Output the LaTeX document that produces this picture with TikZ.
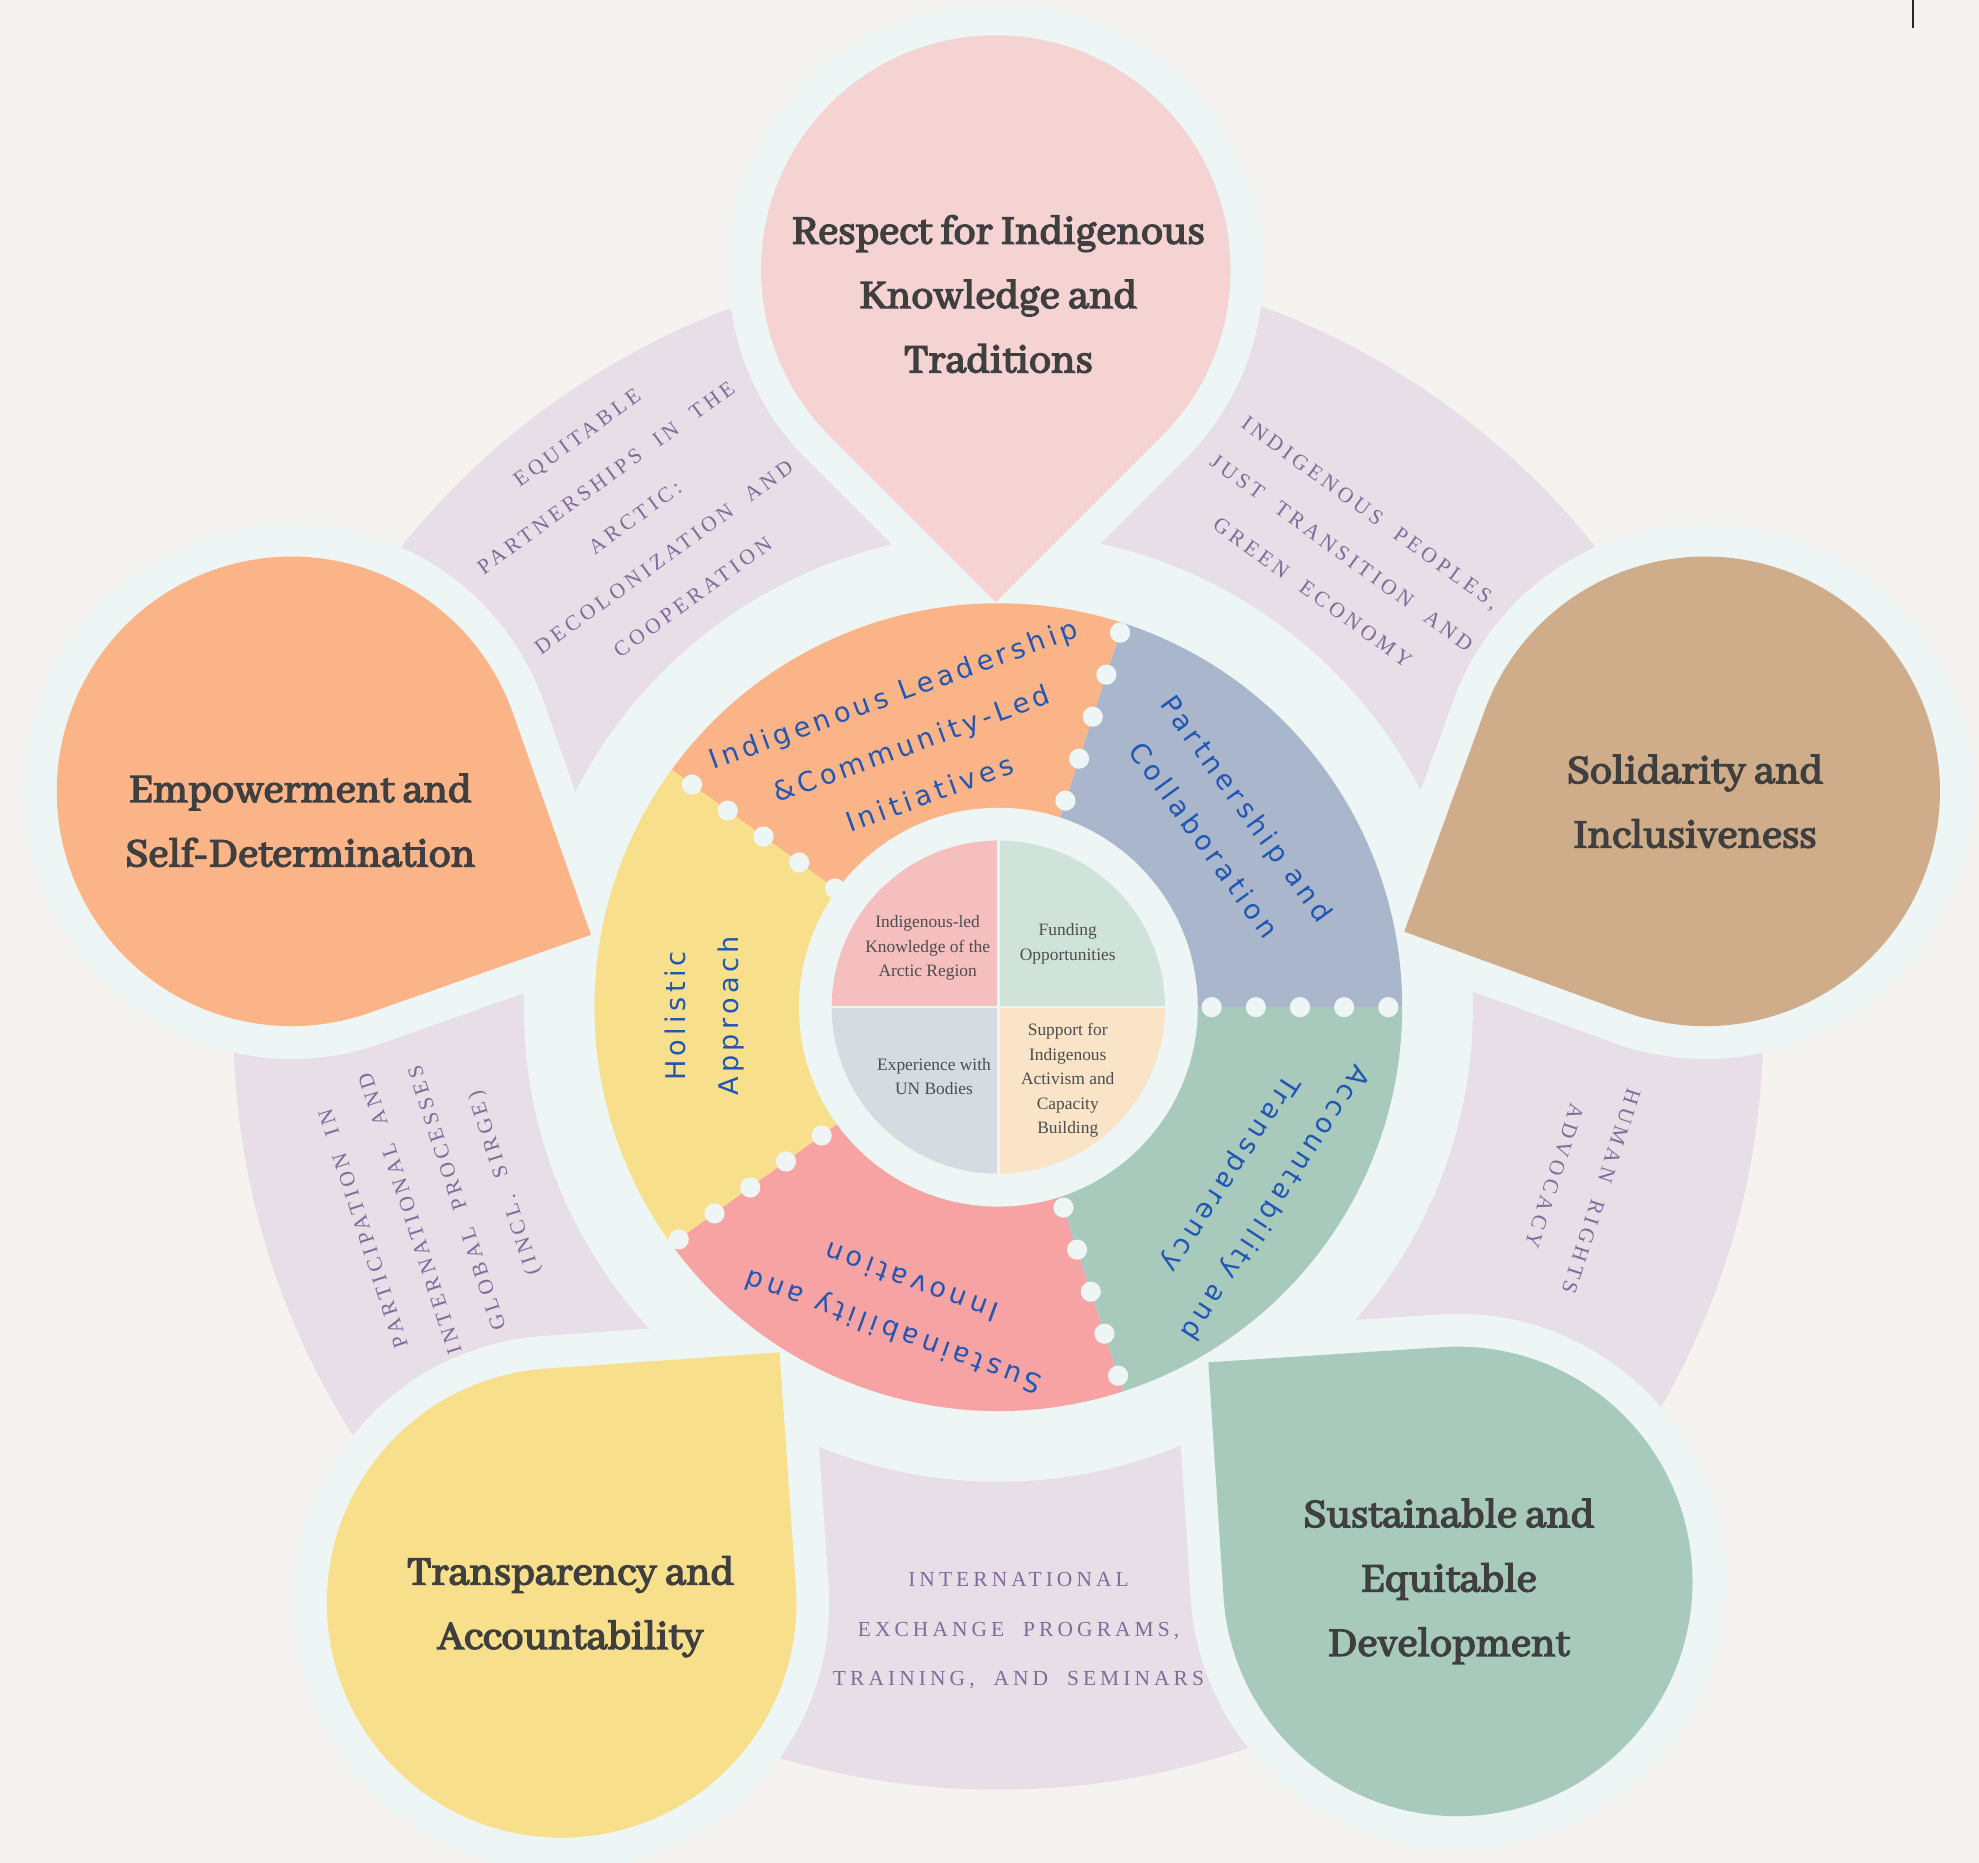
\documentclass[tikz,border=0pt]{standalone}
\usepackage{fontspec}
\setmainfont{Liberation Serif}
\newfontfamily\petalfont[FakeBold=3.5]{Abhaya Libre}
\newfontfamily\wheelfont[LetterSpace=16]{DejaVu Sans}
\newfontfamily\lavfont[LetterSpace=19,WordSpace=2]{Liberation Serif}
\newfontfamily\quadfont{Liberation Serif}
\usetikzlibrary{calc}
\definecolor{bg}{HTML}{F4F3EF}
\definecolor{cyanc}{HTML}{EDF5F5}
\definecolor{lav}{HTML}{E8DEE8}
\definecolor{lavink}{HTML}{806C99}
\definecolor{ink}{HTML}{3F3F3F}
\definecolor{quadink}{HTML}{4D4D4D}
\definecolor{wheelink}{HTML}{2156B3}
\definecolor{ppink}{HTML}{F4D3D2}
\definecolor{porange}{HTML}{FBB487}
\definecolor{ptan}{HTML}{CFAC8A}
\definecolor{pyellow}{HTML}{F8DF8B}
\definecolor{pgreen}{HTML}{A8CABD}
\definecolor{wblue}{HTML}{A9B6CB}
\definecolor{wpink}{HTML}{F7A3A4}
\definecolor{qtl}{HTML}{F4BFBE}
\definecolor{qtr}{HTML}{D0E3DB}
\definecolor{qbl}{HTML}{D4DCE2}
\definecolor{qbr}{HTML}{F9E4C8}
\newcommand\teardrop[4]{%
  \fill[#4] ($(#1)+({#2+45}:#3)$) arc[start angle={#2+45}, end angle={#2+315}, radius=#3] -- ($(#1)+(#2:{#3*1.41421})$) -- cycle;}
\newcommand\wsector[4]{%
  \fill[#4] (#1) -- ($(#1)+(#2:320)$) arc[start angle=#2, end angle=#3, radius=320] -- cycle;}
\newcommand\qsector[4]{%
  \fill[#4] (#1) -- ($(#1)+(#2:132)$) arc[start angle=#2, end angle=#3, radius=132] -- cycle;}
\tikzset{
  petaltext/.style={font=\petalfont\fontsize{35}{51}\selectfont, text=ink, align=center, inner sep=0},
  lavtext/.style={font=\lavfont\fontsize{17}{39}\selectfont, text=lavink, align=center, inner sep=0},
  wheeltext/.style={font=\wheelfont\fontsize{21.5}{42}\selectfont, text=wheelink, align=center, inner sep=0},
  quadtext/.style={font=\quadfont\fontsize{13.8}{19.5}\selectfont, text=quadink, align=center, inner sep=0},
}
\begin{document}
\begin{tikzpicture}[x=1pt,y=1pt]
\fill[bg] (0,0) rectangle (1568,1476);
\useasboundingbox (0,0) rectangle (1568,1476);
\coordinate (C) at (791,678);
\coordinate (L) at (791,664);
\coordinate (pT) at (789,1262);
\coordinate (pR) at (1351,849);
\coordinate (pL) at (231,849);
\coordinate (pBL) at (445,206);
\coordinate (pBR) at (1155,223);
% lavender band and cyan ring
\fill[lav] (L) circle (606);
\fill[cyanc] (C) circle (376);
% petal borders
\teardrop{pT}{270}{212}{cyanc}
\teardrop{pR}{205}{212}{cyanc}
\teardrop{pL}{334.4}{212}{cyanc}
\teardrop{pBL}{49}{212}{cyanc}
\teardrop{pBR}{138.7}{212}{cyanc}
% petal fills
\teardrop{pT}{270}{186}{ppink}
\teardrop{pR}{205}{186}{ptan}
\teardrop{pL}{334.4}{186}{porange}
\teardrop{pBL}{49}{186}{pyellow}
\teardrop{pBR}{138.7}{186}{pgreen}
% wheel
\wsector{C}{0}{72}{wblue}
\wsector{C}{72}{144}{porange}
\wsector{C}{144}{216}{pyellow}
\wsector{C}{216}{288}{wpink}
\wsector{C}{288}{360}{pgreen}
\fill[cyanc] (C) circle (158);
% quadrants
\qsector{C}{90}{180}{qtl}
\qsector{C}{0}{90}{qtr}
\qsector{C}{180}{270}{qbl}
\qsector{C}{270}{360}{qbr}
\draw[cyanc, line width=2] ($(C)+(0,132)$) -- ($(C)+(0,-132)$);
\draw[cyanc, line width=2] ($(C)+(-132,0)$) -- ($(C)+(132,0)$);
% dots
\foreach \a/\s in {0/169, 72/172, 144/160, 216/173, 288/167}{
  \foreach \k in {0,...,4}{
    \fill[cyanc] ($(C)+(\a:{\s+35*\k})$) circle (8);
  }
}
% petal texts
\node[petaltext] (tT) at (791,1243) {Respect for Indigenous\\Knowledge and\\Traditions};
\node[petaltext] (tL) at (238,826) {Empowerment and\\Self-Determination};
\node[petaltext] (tR) at (1343,841) {Solidarity and\\Inclusiveness};
\node[petaltext] (tBL) at (452,203) {Transparency and\\Accountability};
\node[petaltext] (tBR) at (1148,223) {Sustainable and\\Equitable\\Development};
% lavender texts
\node[lavtext, rotate=36] (lTL) at (503,1066) {EQUITABLE\\PARTNERSHIPS IN THE\\ARCTIC:\\DECOLONIZATION AND\\COOPERATION};
\node[lavtext, rotate=-36] (lTR) at (1063,1038) {INDIGENOUS PEOPLES,\\JUST TRANSITION AND\\GREEN ECONOMY};
\node[lavtext, rotate=-108] (lR) at (1250,538) {HUMAN RIGHTS\\ADVOCACY};
\node[lavtext] (lB) at (807,184) {INTERNATIONAL\\EXCHANGE PROGRAMS,\\TRAINING, AND SEMINARS};
\node[lavtext, rotate=108] (lBL) at (345,521) {PARTICIPATION IN\\INTERNATIONAL AND\\GLOBAL PROCESSES\\(INCL. SIRGE)};
% wheel texts
\node[wheeltext, rotate=20] (wO) at (722,887) {Indigenous Leadership\\\&Community-Led\\Initiatives};
\node[wheeltext, rotate=-54] (wB) at (971,823) {Partnership and\\Collaboration};
\node[wheeltext, rotate=-123] (wG) at (992,535) {Accountability and\\Transparency};
\node[wheeltext, rotate=160] (wP) at (715,440) {Sustainability and\\Innovation};
\node[wheeltext, rotate=90] (wY) at (558,671) {Holistic\\Approach};
% quadrant texts
\node[quadtext] (qTL) at (735,725) {Indigenous-led\\Knowledge of the\\Arctic Region};
\node[quadtext] (qTR) at (846,728) {Funding\\Opportunities};
\node[quadtext] (qBL) at (740,623) {Experience with\\UN Bodies};
\node[quadtext] (qBR) at (846,620) {Support for\\Indigenous\\Activism and\\Capacity\\Building};
% cursor mark
\coordinate (m1) at (1516,1476);
\coordinate (m2) at (1516,1454);
\draw[black!85, line width=1.6] (m1) -- (m2);
\end{tikzpicture}
\end{document}
